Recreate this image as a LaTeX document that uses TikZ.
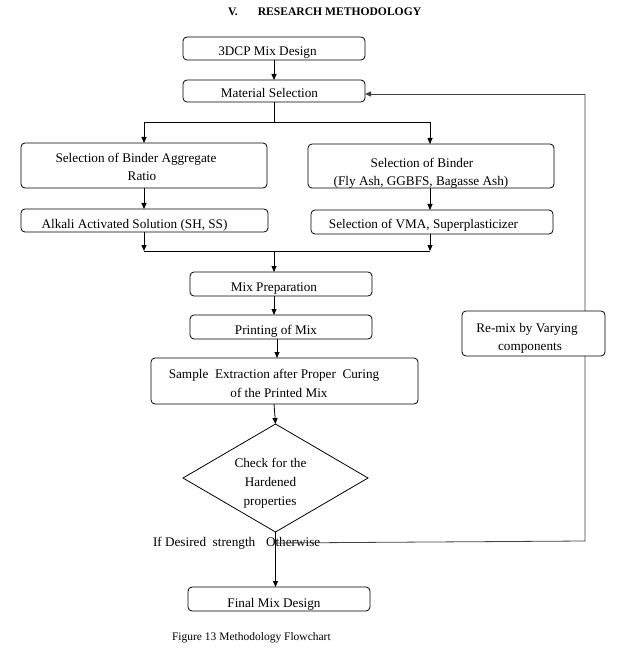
\documentclass[tikz,border=0pt]{standalone}
\usepackage{fontspec}
\setmainfont{Liberation Serif}
\usetikzlibrary{arrows.meta,shapes.geometric}
\begin{document}
\begin{tikzpicture}[x=1pt,y=-1pt,
  every node/.style={inner sep=0pt,outer sep=0pt},
  box/.style={draw,rounded corners=4pt,line width=0.8pt,fill=white},
  txt/.style={anchor=base,font=\fontsize{13.2}{19}\selectfont},
  con/.style={line width=0.8pt},
  arr/.style={line width=0.8pt,-{Triangle[length=6pt,width=5pt]}},
  fbk/.style={line width=0.8pt,draw=black!75}
]
\useasboundingbox (0,0) rectangle (631,652);
% title
\node[anchor=base west,font=\bfseries\fontsize{11.6}{13}\selectfont] (title) at (228,15.5) {V.\hspace{20pt}RESEARCH METHODOLOGY};
% boxes
\node[box,minimum width=182pt,minimum height=23pt] (b1) at (274,48.5) {};
\node[box,minimum width=182pt,minimum height=22pt] (b2) at (274,91) {};
\node[box,minimum width=246pt,minimum height=45pt] (b3l) at (144,165.5) {};
\node[box,minimum width=246pt,minimum height=44pt] (b3r) at (431,166) {};
\node[box,minimum width=247pt,minimum height=23pt] (b4l) at (144.5,220.5) {};
\node[box,minimum width=242pt,minimum height=24pt] (b4r) at (432,222) {};
\node[box,minimum width=182pt,minimum height=24pt] (b5) at (281,284) {};
\node[box,minimum width=182pt,minimum height=24pt] (b6) at (281,327) {};
\node[box,minimum width=267pt,minimum height=46pt] (b7) at (284.5,381) {};
\node[draw,diamond,line width=0.8pt,aspect=1.71,minimum width=185pt,minimum height=108pt] (d) at (275.5,478) {};
\node[box,minimum width=182pt,minimum height=24pt] (b8) at (279,599) {};
% texts
\node[txt] (t1) at (267.5,56) {3DCP Mix Design};
\node[txt] (t2) at (269.5,97.5) {Material Selection};
\node[txt] (t3la) at (136,163) {Selection of Binder Aggregate};
\node[txt] (t3lb) at (142,181) {Ratio};
\node[txt] (t3ra) at (422,168) {Selection of Binder};
\node[txt] (t3rb) at (421,185.5) {(Fly Ash, GGBFS, Bagasse Ash)};
\node[txt] (t4l) at (134.5,228) {Alkali Activated Solution (SH, SS)};
\node[txt] (t4r) at (423.5,229) {Selection of VMA, Superplasticizer};
\node[txt] (t5) at (274,291) {Mix Preparation};
\node[txt] (t6) at (276,334) {Printing of Mix};
\node[txt] (t7a) at (274,378) {Sample\ \ Extraction\ after\ Proper\ \ Curing};
\node[txt] (t7b) at (279,397) {of the Printed Mix};
\node[txt] (tda) at (270.5,467.5) {Check for the};
\node[txt] (tdb) at (270.5,486) {Hardened};
\node[txt] (tdc) at (270,505) {properties};
\node[txt] (t8) at (274,607) {Final Mix Design};
% coordinates
\coordinate (s1) at (274,122);
\coordinate (sl) at (144,122);
\coordinate (sr) at (430,122);
\coordinate (m1) at (274,251);
\coordinate (ml) at (144,251);
\coordinate (mr) at (430,251);
\coordinate (x2) at (277,0);
\coordinate (o1) at (274,543);
\coordinate (o2) at (585,541);
\coordinate (fb) at (585,94);
% connectors
\draw[arr] (b1.south) -- (b2.north);
\draw[con] (b2.south -| s1) -- (s1);
\draw[con] (sl) -- (sr);
\draw[arr] (sl) -- (b3l.north -| sl);
\draw[arr] (sr) -- (b3r.north -| sr);
\draw[arr] (b3l.south -| sl) -- (b4l.north -| sl);
\draw[arr] (b3r.south -| sr) -- (b4r.north -| sr);
\draw[arr] (b4l.south -| ml) -- (ml);
\draw[arr] (b4r.south -| mr) -- (mr);
\draw[con] (ml) -- (mr);
\draw[arr] (m1) -- (b5.north -| m1);
\draw[arr] (b5.south -| m1) -- (b6.north -| m1);
\draw[arr] (b6.south -| x2) -- (b7.north -| x2);
\draw[arr] (b7.south -| m1) -- (d.north);
\draw[arr] (d.south) -- (b8.north -| d.south);
% labels
\node[txt,anchor=base west] (ifd) at (153,546) {If Desired\ \ strength};
\node[txt,anchor=base west] (oth) at (266,546) {Otherwise};
% feedback loop
\draw[fbk] (o1) -- (o2) -- (fb);
\draw[fbk,-{Triangle[length=6pt,width=5pt]}] (fb) -- (b2.east |- fb);
\node[box,minimum width=143pt,minimum height=45pt] (remix) at (533.5,333.5) {};
\node[txt] (tra) at (527,332) {Re-mix by Varying};
\node[txt] (trb) at (530,350) {components};
% caption
\node[anchor=base west,font=\fontsize{11.5}{13}\selectfont] (cap) at (172,640) {Figure 13 Methodology Flowchart};
\end{tikzpicture}
\end{document}
